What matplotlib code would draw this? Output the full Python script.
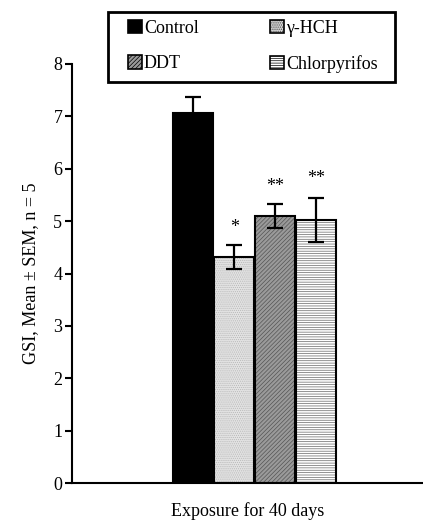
import matplotlib
matplotlib.use("Agg")
import matplotlib.pyplot as plt
from matplotlib.patches import Patch, Rectangle

plt.rcParams['font.family'] = ['Liberation Serif', 'DejaVu Serif']
plt.rcParams['hatch.linewidth'] = 0.5

groups = ['Control', 'γ-HCH', 'DDT', 'Chlorpyrifos']
means = [7.06, 4.31, 5.10, 5.02]
sems = [0.31, 0.23, 0.23, 0.42]
stars = ['', '*', '**', '**']
star_y = [None, 4.72, 5.5, 5.65]

faces = ['black', '#e2e2e2', '#9a9a9a', 'white']
hatches = [None, '........', '////////', '-------']
hatch_cols = ['black', '#b8b8b8', '#555555', '#666666']

fig = plt.figure(figsize=(4.23, 5.20), dpi=100)
ax = fig.add_axes([72 / 423, 1 - 483 / 520, 1 - 72 / 423, (483 - 64) / 520])

xs = list(range(len(groups)))
handles = []
for x, m, s, fc, h, hc, g in zip(xs, means, sems, faces, hatches, hatch_cols, groups):
    ax.bar(x, m, width=0.98, color=fc, edgecolor=hc, hatch=h, linewidth=0, zorder=2)
    ax.bar(x, m, width=0.98, facecolor='none', edgecolor='black', linewidth=1.5, zorder=3)
    ax.errorbar(x, m, yerr=s, fmt='none', ecolor='black', elinewidth=1.6,
                capsize=6, capthick=1.6, zorder=4)
    handles.append(Patch(facecolor=fc, edgecolor='black', hatch=h, linewidth=1.2, label=g))

for x, st, sy in zip(xs, stars, star_y):
    if st:
        ax.text(x, sy, st, ha='center', va='bottom', fontsize=13)

ax.set_xlim(-2.95, 5.6)
ax.set_ylim(0, 8)
ax.set_yticks(range(0, 9))
ax.set_xticks([])
ax.spines['top'].set_visible(False)
ax.spines['right'].set_visible(False)
ax.spines['left'].set_linewidth(1.5)
ax.spines['bottom'].set_linewidth(1.5)
ax.tick_params(axis='y', direction='out', length=5, width=1.5, labelsize=13, pad=2)
ax.set_ylabel('GSI, Mean ± SEM, n = 5', fontsize=13, labelpad=10)
ax.set_xlabel('Exposure for 40 days', fontsize=13, labelpad=14)

# legend box drawn separately so the inner padding can match
fig.patches.append(Rectangle((108 / 423, 1 - 82 / 520), (395 - 108) / 423, 70 / 520,
                             transform=fig.transFigure, facecolor='white',
                             edgecolor='black', linewidth=2, zorder=5))
order = [0, 2, 1, 3]
leg = fig.legend([handles[i] for i in order], [groups[i] for i in order],
                 loc='upper left', bbox_to_anchor=(124 / 423, 1 - 16 / 520),
                 ncol=2, fontsize=13, frameon=False,
                 handlelength=0.8, handleheight=0.8, handletextpad=0.1,
                 columnspacing=3.95, labelspacing=1.0, borderpad=0.2,
                 borderaxespad=0)
leg.set_zorder(6)

fig.savefig('out.png', dpi=100)
